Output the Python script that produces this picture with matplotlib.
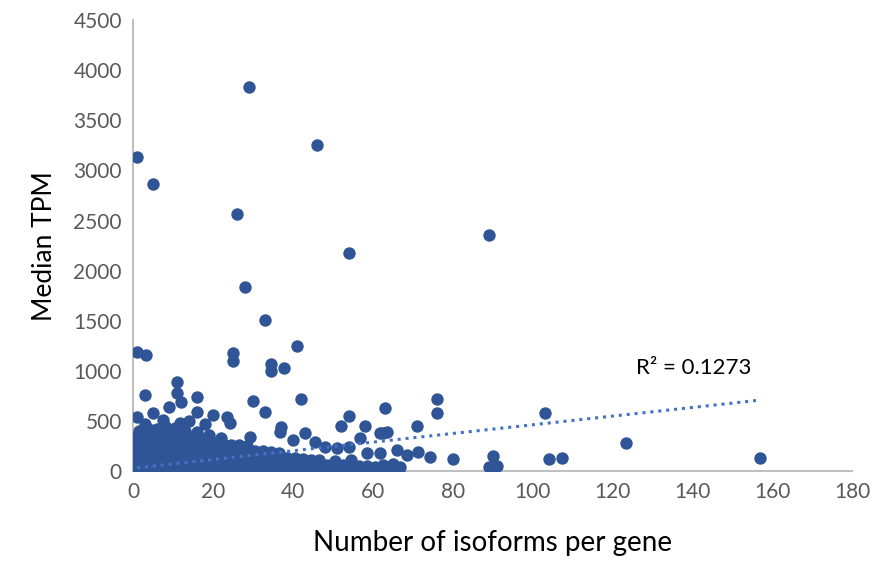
import matplotlib.pyplot as plt
import numpy as np

# Data
# isolated points (isoforms, median TPM)
outlier_x = [1, 29, 46, 5, 26, 54, 89, 28, 33, 41, 1, 3.3, 25, 25, 34.5, 34.5, 37.8,
             3, 11, 42, 30, 33, 11, 12, 16, 16, 76, 76, 63, 54, 71, 52, 58, 62.5, 1,
             103, 123.4, 157, 80, 90, 89, 91, 104, 107.4, 74.4]
outlier_y = [3130, 3830, 3250, 2865, 2565, 2175, 2355, 1835, 1505, 1250, 1190, 1160, 1175, 1100, 1068, 1000, 1028,
             760, 895, 720, 698, 590, 778, 690, 738, 590, 720, 580, 630, 550, 450, 450, 450, 380, 540,
             580, 280, 130, 120, 150, 40, 55, 120, 130, 140]

# points just above the dense mass
edge_x = [5, 9, 7.5, 11.8, 20, 23.5, 24.3, 29.3, 37, 36.7, 40, 43, 45.5, 48, 51, 54,
          56.8, 61.8, 63.5, 66, 68.5, 71.3, 61.8, 58.5, 66.8, 65, 14, 18, 3, 8,
          1.5, 6, 10, 13, 16, 19, 22]
edge_y = [578, 640, 510, 480, 560, 540, 480, 340, 440, 390, 310, 380, 290, 240, 230, 240,
          330, 380, 390, 210, 160, 190, 180, 180, 40, 70, 500, 470, 470, 450,
          400, 420, 410, 400, 390, 360, 330]

# dense mass near the origin
mass_x = [0.5, 0.5, 0.5, 0.5, 0.5, 0.5,
          2.5, 2.5, 2.5, 2.5, 2.5, 2.5,
          4.5, 4.5, 4.5, 4.5, 4.5, 4.5, 4.5,
          6.5, 6.5, 6.5, 6.5, 6.5, 6.5,
          8.5, 8.5, 8.5, 8.5, 8.5, 8.5,
          10.5, 10.5, 10.5, 10.5, 10.5, 10.5, 10.5,
          12.5, 12.5, 12.5, 12.5, 12.5, 12.5,
          14.5, 14.5, 14.5, 14.5, 14.5, 14.5,
          16.5, 16.5, 16.5, 16.5, 16.5, 16.5,
          18.5, 18.5, 18.5, 18.5, 18.5,
          20.5, 20.5, 20.5, 20.5, 20.5,
          22.5, 22.5, 22.5, 22.5, 22.5,
          24.5, 24.5, 24.5, 24.5, 24.5,
          26.5, 26.5, 26.5, 26.5, 26.5,
          28.5, 28.5, 28.5, 28.5, 28.5,
          30.5, 30.5, 30.5, 30.5,
          32.5, 32.5, 32.5, 32.5,
          34.5, 34.5, 34.5, 34.5,
          36.5, 36.5, 36.5, 36.5,
          38.5, 38.5, 38.5,
          40.5, 40.5, 40.5,
          42.5, 42.5, 42.5,
          44.5, 44.5, 44.5,
          46.5, 46.5, 46.5,
          48.5, 48.5,
          50.5, 50.5, 50.5,
          52.5, 52.5,
          54.5, 54.5, 54.5,
          56.5, 56.5,
          58.5, 58.5,
          60.5, 60.5,
          62.5, 62.5,
          64.5, 66.5]
mass_y = [0, 70, 140, 210, 280, 340,
          0, 70, 140, 210, 280, 350,
          0, 70, 140, 210, 280, 350, 410,
          0, 70, 140, 210, 280, 350,
          0, 70, 140, 210, 280, 350,
          0, 70, 140, 210, 280, 350, 430,
          0, 70, 140, 210, 280, 350,
          0, 70, 140, 210, 280, 340,
          0, 70, 140, 210, 280, 330,
          0, 70, 140, 210, 280,
          0, 70, 140, 210, 280,
          0, 70, 140, 210, 270,
          0, 70, 140, 210, 260,
          0, 70, 140, 210, 260,
          0, 70, 140, 210, 250,
          0, 70, 140, 200,
          0, 70, 140, 200,
          0, 70, 140, 190,
          0, 70, 140, 180,
          0, 70, 130,
          0, 70, 130,
          0, 60, 120,
          0, 60, 110,
          0, 60, 110,
          0, 60,
          0, 60, 100,
          0, 60,
          0, 50, 110,
          0, 50,
          0, 50,
          0, 40,
          0, 60,
          10, 20]

# linear trendline as shown (Excel fit)
trend_x = [1, 157]
trend_y = [35, 710]
r2_label = "R² = 0.1273"

x_ticks = list(range(0, 181, 20))
y_ticks = list(range(0, 4501, 500))

plt.rcParams['font.family'] = ['Lato', 'DejaVu Sans']

fig = plt.figure(figsize=(8.75, 5.74), dpi=100)
ax = fig.add_axes([0.152, 0.179, 0.822, 0.786])

dot_color = '#2F5597'
all_x = outlier_x + edge_x + mass_x
all_y = outlier_y + edge_y + mass_y
ax.scatter(all_x, all_y, s=80, color=dot_color, linewidths=0, zorder=3)

ax.plot(trend_x, trend_y, linestyle=(0, (1, 1.6)), color='#4472C4', linewidth=2.2, zorder=4)
ax.text(126, 1030, r2_label, fontsize=16, color='black', ha='left', va='center')

ax.set_xlim(0, 180)
ax.set_ylim(0, 4500)
ax.set_xticks(x_ticks)
ax.set_yticks(y_ticks)
ax.tick_params(length=0, labelsize=15, labelcolor='#595959', pad=8)

for s in ['top', 'right']:
    ax.spines[s].set_visible(False)
for s in ['left', 'bottom']:
    ax.spines[s].set_color('#BFBFBF')
    ax.spines[s].set_linewidth(1.5)

ax.set_xlabel("Number of isoforms per gene", fontsize=20, labelpad=20)
ax.set_ylabel("Median TPM", fontsize=19, labelpad=12)

fig.savefig('out.png', dpi=100)
